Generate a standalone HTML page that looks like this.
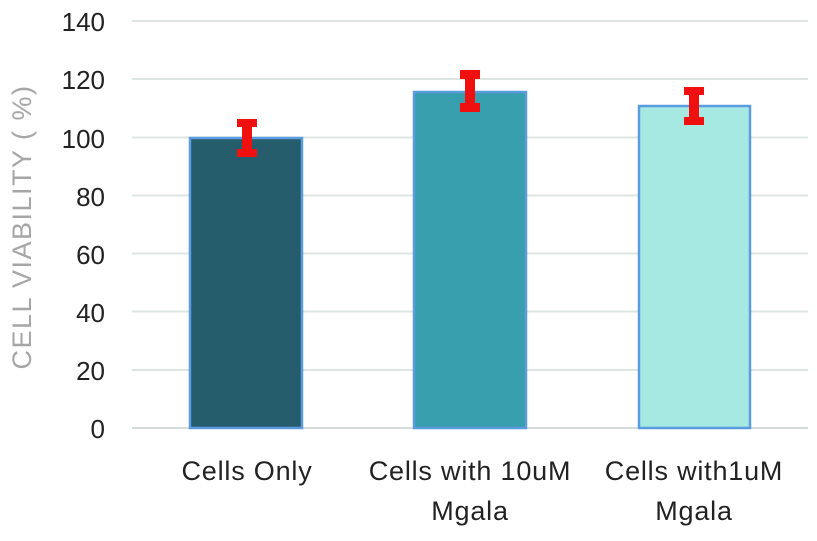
<!DOCTYPE html>
<html><head><style>
body{margin:0;background:#fff;}
svg text{font-family:"Liberation Sans",sans-serif;}
</style></head><body>
<svg width="817" height="536" viewBox="0 0 817 536" xmlns="http://www.w3.org/2000/svg">
<g stroke="#dde4e2" stroke-width="2">
<line x1="132" x2="808" y1="21" y2="21"/>
<line x1="132" x2="808" y1="79" y2="79"/>
<line x1="132" x2="808" y1="137.5" y2="137.5"/>
<line x1="132" x2="808" y1="195.5" y2="195.5"/>
<line x1="132" x2="808" y1="253.5" y2="253.5"/>
<line x1="132" x2="808" y1="311.5" y2="311.5"/>
<line x1="132" x2="808" y1="370" y2="370"/>
</g>
<line x1="132" x2="808" y1="428" y2="428" stroke="#d4dcda" stroke-width="2"/>
<g font-size="26" fill="#222" text-anchor="end">
<text x="105" y="31">140</text>
<text x="105" y="89">120</text>
<text x="105" y="148">100</text>
<text x="105" y="206">80</text>
<text x="105" y="264">60</text>
<text x="105" y="322">40</text>
<text x="105" y="380">20</text>
<text x="105" y="438">0</text>
</g>
<text transform="translate(31,227) rotate(-90)" font-size="27" letter-spacing="1.5" fill="#a6a6a6" text-anchor="middle">CELL VIABILITY ( %)</text>
<rect x="190" y="138" width="112" height="290" fill="#265d6d" stroke="#5b9be0" stroke-width="2.5"/>
<rect x="414" y="92" width="112" height="336" fill="#389faf" stroke="#5b9be0" stroke-width="2.5"/>
<rect x="639" y="106" width="111" height="322" fill="#a6e9e3" stroke="#5b9be0" stroke-width="2.5"/>
<g fill="#f01010">
<rect x="237" y="119" width="20" height="8"/><rect x="242" y="119" width="10" height="38"/><rect x="237" y="149" width="20" height="8"/>
<rect x="460" y="70" width="20" height="9"/><rect x="465" y="70" width="10" height="42"/><rect x="460" y="103" width="20" height="9"/>
<rect x="684" y="87" width="20" height="8"/><rect x="689" y="87" width="10" height="38"/><rect x="684" y="117" width="20" height="8"/>
</g>
<g font-size="27" letter-spacing="0.8" fill="#222" text-anchor="middle">
<text x="247" y="480">Cells Only</text>
<text x="470" y="480">Cells with 10uM</text>
<text x="470" y="520">Mgala</text>
<text x="694" y="480">Cells with1uM</text>
<text x="694" y="520">Mgala</text>
</g>
</svg>
</body></html>
